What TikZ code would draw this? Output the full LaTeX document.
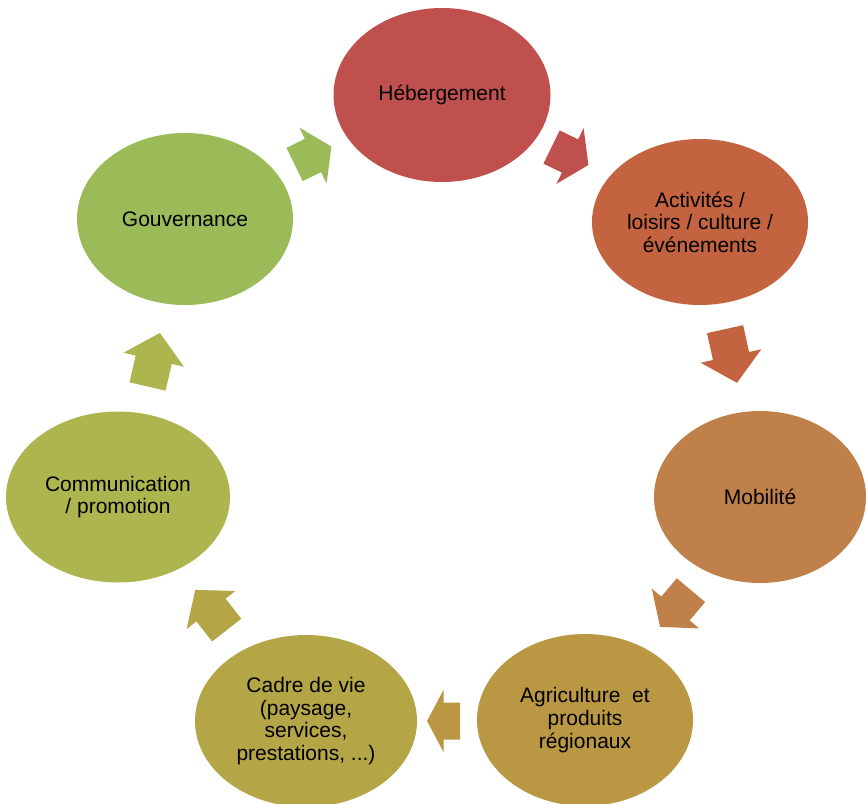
\documentclass[tikz,border=0pt]{standalone}
\usepackage{fontspec}
\setmainfont{Liberation Sans}
\usetikzlibrary{shapes.geometric}
\definecolor{cA}{HTML}{C0504D}
\definecolor{cB}{HTML}{C3633F}
\definecolor{cC}{HTML}{C08049}
\definecolor{cD}{HTML}{B99743}
\definecolor{cE}{HTML}{B4A546}
\definecolor{cF}{HTML}{ADB54F}
\definecolor{cG}{HTML}{9BBB59}
\tikzset{
  cyc/.style={ellipse, inner sep=0pt, align=center, text=black,
    font=\fontsize{10.5pt}{11.3pt}\selectfont},
}
\newcommand\blockarr[4]{%
  \begin{scope}[shift={#1}, rotate=#2]
    \fill[#4] (-#3,-18.5) -- (0,-18.5) -- (0,-31) -- (#3,0) -- (0,31) -- (0,18.5) -- (-#3,18.5) -- cycle;
  \end{scope}}
\begin{document}
\begin{tikzpicture}[x=0.5pt, y=-0.5pt]
\useasboundingbox (0,0) rectangle (866,803);
\node[cyc, fill=cA, minimum width=108.5pt, minimum height=87pt] (heb) at (442,95) {Hébergement};
\node[cyc, fill=cB, minimum width=108pt, minimum height=83pt] (act) at (700,222) {Activités /\\loisirs / culture /\\événements};
\node[cyc, fill=cC, minimum width=106pt, minimum height=86pt] (mob) at (760,497) {Mobilité};
\node[cyc, fill=cD, minimum width=108pt, minimum height=86pt] (agr) at (585,720) {Agriculture\ \ et\\produits\\régionaux};
\node[cyc, fill=cE, minimum width=111pt, minimum height=86pt] (cad) at (306,721) {Cadre de vie\\(paysage,\\services,\\prestations, ...)};
\node[cyc, fill=cF, minimum width=112pt, minimum height=85.5pt] (com) at (118,497) {Communication\\/ promotion};
\node[cyc, fill=cG, minimum width=108pt, minimum height=86pt] (gov) at (185,219) {Gouvernance};
\blockarr{(313,155.5)}{26}{20.5}{cG}
\blockarr{(570,156)}{-26}{20.5}{cA}
\blockarr{(731,356)}{-77.5}{27.5}{cB}
\blockarr{(675.5,608.5)}{-130}{24}{cC}
\blockarr{(443.5,721)}{180}{16.5}{cD}
\blockarr{(211,610)}{128}{25.5}{cE}
\blockarr{(153.7,359.7)}{77}{27.5}{cF}
\end{tikzpicture}
\end{document}
